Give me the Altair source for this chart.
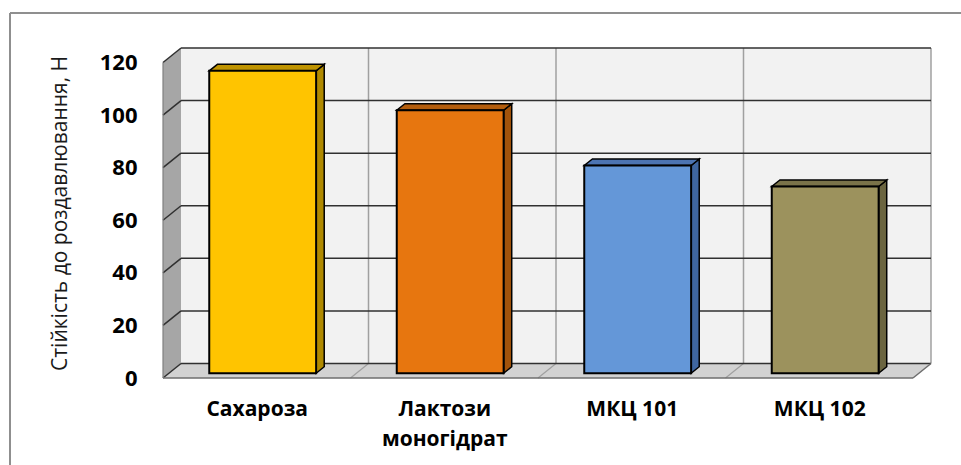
import altair as alt
import pandas as pd

# Categories, axis label lines and measured crushing strength (N)
CATEGORIES = ["Сахароза", "Лактози моногідрат", "МКЦ 101", "МКЦ 102"]
LABEL_LINES = [["Сахароза"], ["Лактози", "моногідрат"], ["МКЦ 101"], ["МКЦ 102"]]
VALUES = [115, 100, 79, 71]
Y_TICKS = [0, 20, 40, 60, 80, 100, 120]

# Palette: front face, side face and top face of each column
FRONT_COLORS = ["#FFC400", "#E7760F", "#6497D8", "#9C925D"]
SIDE_COLORS = ["#B08A00", "#A2530B", "#3F66A0", "#6B6540"]
TOP_COLORS = ["#BF9300", "#B35D0D", "#4C74B2", "#7A7349"]

# Pseudo-3D box geometry (x in category bands, y in value units)
DX, DY = 0.096, 5.5          # depth of the box
BAR_W = 0.57                 # column width as a share of a band
BAR_FRONT, BAR_BACK = 0.33, 0.78   # column depth range as a share of box depth
Y_TOP = Y_TICKS[-1]
N = len(CATEGORIES)
X_MAX = N + DX
Y_MAX = Y_TOP + DY

xs = alt.Scale(domain=[0, X_MAX], nice=False, zero=False)
ys = alt.Scale(domain=[0, Y_MAX], nice=False, zero=False)

FONT = "Open Sans"

label_expr = "[" + ",".join(
    "[" + ",".join("'" + s + "'" for s in lines) + "]" for lines in LABEL_LINES
) + "][floor(datum.value)]"

X_AXIS = alt.Axis(
    values=[i + 0.5 for i in range(N)], labelExpr=label_expr, title=None,
    domain=False, ticks=False, grid=False, labelPadding=20,
    labelFont=FONT, labelFontWeight="bold", labelFontSize=21, labelColor="#000000",
    labelLineHeight=30, labelBaseline="top", labelAlign="center",
)
Y_AXIS = alt.Axis(
    values=Y_TICKS, title="Стійкість до роздавлювання, Н",
    domain=False, ticks=False, grid=False, labelPadding=26,
    labelFont=FONT, labelFontWeight="bold", labelFontSize=22, labelColor="#000000",
    titleFont=FONT, titleFontWeight="normal", titleFontSize=21, titleColor="#1a1a1a",
    titlePadding=29,
)


def X(field):
    return alt.X(field, scale=xs, axis=X_AXIS)


def Y(field):
    return alt.Y(field, scale=ys, axis=Y_AXIS)


# ---- walls -------------------------------------------------------------
back_wall = alt.Chart(pd.DataFrame({"x": [DX], "x2": [X_MAX], "y": [DY], "y2": [Y_MAX]})).mark_rect(
    fill="#f2f2f2"
).encode(x=X("x:Q"), x2="x2:Q", y=Y("y:Q"), y2="y2:Q")

side_wall_df = pd.DataFrame({"x": [0, DX], "y": [0, DY], "y2": [Y_TOP, Y_MAX]})
side_wall = alt.Chart(side_wall_df).mark_area(orient="vertical", fill="#a6a6a6").encode(
    x=X("x:Q"), y=Y("y:Q"), y2="y2:Q"
)

floor_df = pd.DataFrame({"y": [0, DY], "x": [0, DX], "x2": [N, X_MAX]})
floor = alt.Chart(floor_df).mark_area(orient="horizontal", fill="#d2d2d2").encode(
    y=Y("y:Q"), x=X("x:Q"), x2="x2:Q"
)


# ---- grid lines --------------------------------------------------------
def seg_layer(df, color, width):
    return alt.Chart(df).mark_rule(color=color, strokeWidth=width).encode(
        x=X("x:Q"), x2="x2:Q", y=Y("y:Q"), y2="y2:Q",
    )


h_back = pd.DataFrame({"x": DX, "x2": X_MAX, "y": [v + DY for v in Y_TICKS], "y2": [v + DY for v in Y_TICKS]})
h_side = pd.DataFrame({"x": 0.0, "x2": DX, "y": Y_TICKS, "y2": [v + DY for v in Y_TICKS]})
v_back = pd.DataFrame({"x": [k + DX for k in range(1, N + 1)], "x2": [k + DX for k in range(1, N + 1)], "y": DY, "y2": Y_MAX})
v_floor = pd.DataFrame({"x": list(range(1, N)), "x2": [k + DX for k in range(1, N)], "y": 0.0, "y2": DY})
floor_edges = pd.DataFrame({"x": [0, N], "x2": [N, X_MAX], "y": [0, 0], "y2": [0, DY]})
side_edge = pd.DataFrame({"x": [0], "x2": [0], "y": [0], "y2": [Y_TOP]})

grid = [
    seg_layer(v_back, "#a0a0a0", 1.5),
    seg_layer(v_floor, "#a0a0a0", 1.2),
    seg_layer(h_back, "#303030", 1.5),
    seg_layer(h_side, "#303030", 1.5),
    seg_layer(floor_edges, "#6e6e6e", 1.5),
    seg_layer(side_edge, "#808080", 1.2),
]

# ---- columns -----------------------------------------------------------
f0x, f0y = BAR_FRONT * DX, BAR_FRONT * DY
dbx, dby = (BAR_BACK - BAR_FRONT) * DX, (BAR_BACK - BAR_FRONT) * DY

front_rows, side_rows, top_rows = [], [], []
for i, (cat, v) in enumerate(zip(CATEGORIES, VALUES)):
    xl = i + 0.5 - BAR_W / 2 + f0x
    xr = xl + BAR_W
    y0 = f0y
    yt = v + f0y
    front_rows.append({"cat": cat, "value": v, "xl": xl, "xr": xr, "y0": y0, "yt": yt, "fill": FRONT_COLORS[i]})
    side_rows += [
        {"cat": cat, "x": xr, "lo": y0, "hi": yt, "fill": SIDE_COLORS[i]},
        {"cat": cat, "x": xr + dbx, "lo": y0 + dby, "hi": yt + dby, "fill": SIDE_COLORS[i]},
    ]
    top_rows += [
        {"cat": cat, "y": yt, "l": xl, "r": xr, "fill": TOP_COLORS[i]},
        {"cat": cat, "y": yt + dby, "l": xl + dbx, "r": xr + dbx, "fill": TOP_COLORS[i]},
    ]

sides = alt.Chart(pd.DataFrame(side_rows)).mark_area(
    orient="vertical", stroke="#000000", strokeWidth=1.5, strokeJoin="miter"
).encode(
    x=X("x:Q"), y=Y("lo:Q"), y2="hi:Q",
    detail="cat:N", fill=alt.Fill("fill:N", scale=None),
)

tops = alt.Chart(pd.DataFrame(top_rows)).mark_area(
    orient="horizontal", stroke="#000000", strokeWidth=1.5, strokeJoin="miter"
).encode(
    y=Y("y:Q"), x=X("l:Q"), x2="r:Q",
    detail="cat:N", fill=alt.Fill("fill:N", scale=None),
)

fronts = alt.Chart(pd.DataFrame(front_rows)).mark_rect(stroke="#000000", strokeWidth=2).encode(
    x=X("xl:Q"), x2="xr:Q", y=Y("y0:Q"), y2="yt:Q",
    fill=alt.Fill("fill:N", scale=None),
)

# ---- chart-area frame --------------------------------------------------
frame_top = alt.Chart(pd.DataFrame({"k": [0]})).mark_rule(color="#8f8f8f", strokeWidth=2).encode(
    x=alt.value(-153), x2=alt.value(820), y=alt.value(-35)
)
frame_left = alt.Chart(pd.DataFrame({"k": [0]})).mark_rule(color="#8f8f8f", strokeWidth=2).encode(
    x=alt.value(-153), y=alt.value(-35), y2=alt.value(430)
)

chart = alt.layer(
    back_wall, side_wall, floor, *grid, sides, tops, fronts, frame_top, frame_left
).properties(
    width=768, height=330,
    padding={"left": 163, "top": 48, "right": 30, "bottom": 87},
    autosize=alt.AutoSizeParams(type="none"),
    background="#ffffff",
).configure_view(stroke=None)

chart.save("out.html", embed_options={"renderer": "svg", "actions": False})
